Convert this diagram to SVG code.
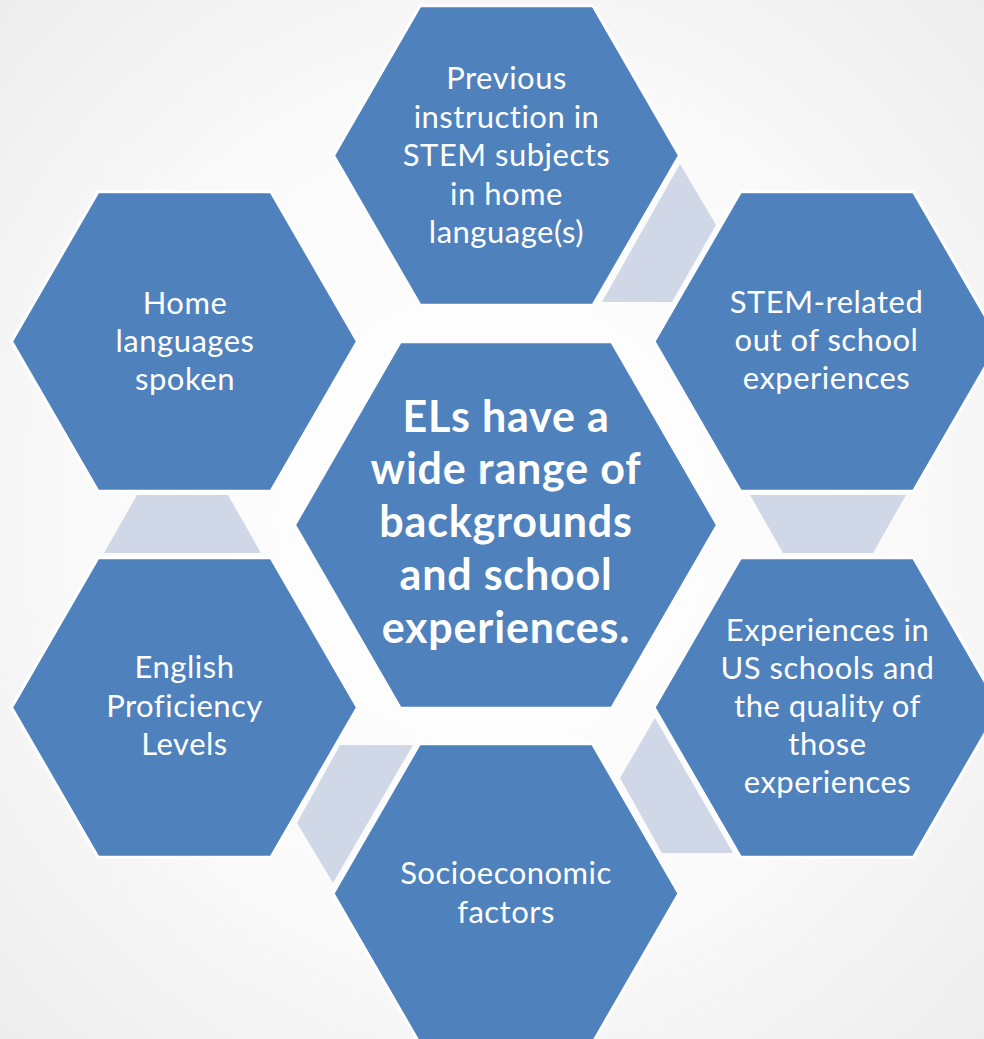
<svg xmlns="http://www.w3.org/2000/svg" width="984" height="1039" viewBox="0 0 984 1039">
  <defs>
    <radialGradient id="bg" cx="50%" cy="50%" r="75%">
      <stop offset="0" stop-color="#ffffff"/>
      <stop offset="0.55" stop-color="#fafafa"/>
      <stop offset="1" stop-color="#ebebeb"/>
    </radialGradient>
    <style>
      .hex { fill: #4f81bd; stroke: #ffffff; stroke-width: 3; stroke-linejoin: miter; }
      .conn { fill: #d0d8e8; stroke: none; }
      .lbl { fill: #ffffff; font-family: Lato, "Open Sans", "Liberation Sans", sans-serif; font-size: 31px; letter-spacing: 0.5px; text-anchor: middle; }
      .main { fill: #ffffff; font-family: Lato, "Open Sans", "Liberation Sans", sans-serif; font-size: 43px; letter-spacing: 0.8px; font-weight: bold; text-anchor: middle; }
    </style>
  </defs>
  <rect x="0" y="0" width="984" height="1039" fill="url(#bg)"/>

  <g id="connectors">
    <polygon class="conn" points="680,164 716,225 672,302 602,302"/>
    <polygon class="conn" points="750,495 906,495 873,553 783,553"/>
    <polygon class="conn" points="655,718 733,853 662,853 620,778"/>
    <polygon class="conn" points="340,745 413,745 333,883 297,823"/>
    <polygon class="conn" points="137,495 228,495 261,553 104,553"/>
  </g>

  <g id="node-previous">
    <polygon class="hex" points="333.5,155.5 420,5.7 593,5.7 679.5,155.5 593,305.3 420,305.3"/>
    <text class="lbl" x="506.5" y="89">Previous</text>
    <text class="lbl" x="506.5" y="127.5">instruction in</text>
    <text class="lbl" x="506.5" y="166">STEM subjects</text>
    <text class="lbl" x="506.5" y="204.5">in home</text>
    <text class="lbl" x="506.5" y="243">language(s)</text>
  </g>

  <g id="node-home">
    <polygon class="hex" points="11.5,341.5 98,191.7 271,191.7 357.5,341.5 271,491.3 98,491.3"/>
    <text class="lbl" x="185" y="313.5">Home</text>
    <text class="lbl" x="185" y="351.7">languages</text>
    <text class="lbl" x="185" y="389.5">spoken</text>
  </g>

  <g id="node-stem">
    <polygon class="hex" points="654,341.5 740.5,191.7 913.5,191.7 1000,341.5 913.5,491.3 740.5,491.3"/>
    <text class="lbl" x="826.5" y="312.7">STEM-related</text>
    <text class="lbl" x="826.5" y="350.9">out of school</text>
    <text class="lbl" x="826.5" y="389.3">experiences</text>
  </g>

  <g id="node-english">
    <polygon class="hex" points="11.5,707.5 98,557.7 271,557.7 357.5,707.5 271,857.3 98,857.3"/>
    <text class="lbl" x="184.5" y="678.3">English</text>
    <text class="lbl" x="184.5" y="716.7">Proficiency</text>
    <text class="lbl" x="184.5" y="755">Levels</text>
  </g>

  <g id="node-experiences">
    <polygon class="hex" points="654,707.5 740.5,557.7 913.5,557.7 1000,707.5 913.5,857.3 740.5,857.3"/>
    <text class="lbl" x="827.5" y="641">Experiences in</text>
    <text class="lbl" x="827.5" y="679">US schools and</text>
    <text class="lbl" x="827.5" y="716.7">the quality of</text>
    <text class="lbl" x="827.5" y="755">those</text>
    <text class="lbl" x="827.5" y="792.7">experiences</text>
  </g>

  <g id="node-socio">
    <polygon class="hex" points="333,893.5 419.5,743.7 592.5,743.7 679,893.5 592.5,1043.3 419.5,1043.3"/>
    <text class="lbl" x="506" y="884.3">Socioeconomic</text>
    <text class="lbl" x="506" y="922.7">factors</text>
  </g>

  <g id="node-center">
    <polygon class="hex" points="294.5,525 400.25,341.8 611.75,341.8 717.5,525 611.75,708.2 400.25,708.2"/>
    <text class="main" x="506" y="431.7">ELs have a</text>
    <text class="main" x="506" y="484">wide range of</text>
    <text class="main" x="506" y="536.7">backgrounds</text>
    <text class="main" x="506" y="590">and school</text>
    <text class="main" x="506" y="643.3">experiences.</text>
  </g>
</svg>
